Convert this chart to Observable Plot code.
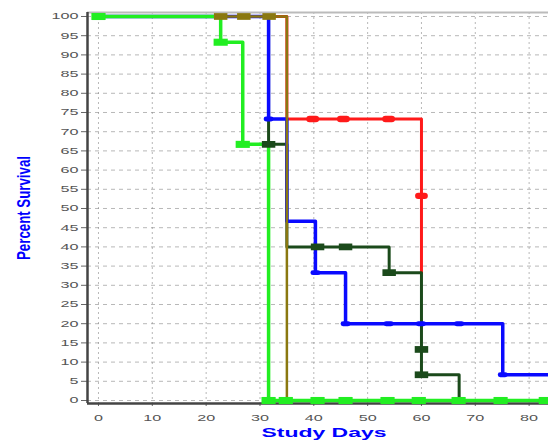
<!DOCTYPE html>
<html><head><meta charset="utf-8">
<script src="https://cdn.jsdelivr.net/npm/d3@7"></script>
<script src="https://cdn.jsdelivr.net/npm/@observablehq/plot@0.6"></script>
<style>body{margin:0;background:#fff;overflow:hidden}</style>
</head><body><div id="chart"></div>
<script>
const xLabel = "Study Days";
const yLabel = "Percent Survival";
const xTicks = [0, 10, 20, 30, 40, 50, 60, 70, 80];
const yTicks = [0,5,10,15,20,25,30,35,40,45,50,55,60,65,70,75,80,85,90,95,100];
const xDomain = [-2.04, 83.6];
const yDomain = [-0.78, 101.04];

// step curves (day, percent survival)
const redDays = [0, 35, 60];
const redSurv = [100, 73.3, 33.3];
const darkDays = [0, 31.6, 35, 54, 60, 67, 84];
const darkSurv = [100, 66.7, 40, 33.3, 6.7, 0, 0];
const blueDays = [0, 31.6, 35, 40.3, 45.9, 75.1, 84];
const blueSurv = [100, 73.3, 46.7, 33.3, 20, 6.7, 6.7];
const greenDays = [0, 22.7, 26.8, 31.6, 84];
const greenSurv = [100, 93.3, 66.7, 0, 0];
const oliveDays = [0, 35, 84];
const oliveSurv = [100, 0, 0];

// markers
const blueMarkDays = [22.7, 31.6, 40.3, 45.9, 53.9, 59.9, 67, 75.1];
const blueMarkSurv = [100, 73.3, 33.3, 20, 20, 20, 20, 6.7];
const redMarkDays = [39.8, 45.5, 53.9, 60];
const redMarkSurv = [73.3, 73.3, 73.3, 53.3];
const darkMarkDays = [31.6, 40.7, 45.9, 54, 60, 60];
const darkMarkSurv = [66.7, 40, 40, 33.3, 13.3, 6.7];
const oliveMarkDays = [22.7, 27, 31.7];
const oliveMarkSurv = [100, 100, 100];
const greenMarkDays = [0, 22.7, 26.8, 31.6, 34.8, 40.7, 45.9, 53.7, 59.5, 66.9, 74.7, 83.1];
const greenMarkSurv = [100, 93.3, 66.7, 0, 0, 0, 0, 0, 0, 0, 0, 0];

const C = {red: "#ff1a1a", dark: "#1b4a1b", blue: "#0a0aff", green: "#22ee22", olive: "#8a7810"};
const pts = (d, s) => d.map((x, i) => ({x, y: s[i]}));

// wide markers (the reference image is horizontally stretched)
const wideRect = {draw(ctx, size) { const h = Math.sqrt(size) / 2; ctx.rect(-2 * h, -h, 4 * h, 2 * h); }};
const capsule = {draw(ctx, size) {
  const h = Math.sqrt(size) / 2, w = 2 * h;
  ctx.moveTo(w - h, -h); ctx.arc(w - h, 0, h, -Math.PI / 2, Math.PI / 2);
  ctx.lineTo(-w + h, h); ctx.arc(-w + h, 0, h, Math.PI / 2, 3 * Math.PI / 2); ctx.closePath();
}};

const lineMark = (d, s, color, w) => Plot.line(pts(d, s), {x: "x", y: "y", curve: "step-after", stroke: color, strokeWidth: w});
const dotMark = (d, s, color, r, sym) => Plot.dot(pts(d, s), {x: "x", y: "y", fill: color, stroke: "none", r, symbol: sym});

const chart = Plot.plot({
  width: 548, height: 440,
  marginLeft: 87, marginRight: 0, marginTop: 12, marginBottom: 37,
  x: {domain: xDomain},
  y: {domain: yDomain},
  style: {fontFamily: "Liberation Sans", background: "#fff", overflow: "visible"},
  marks: [
    Plot.gridY(yTicks, {stroke: "#888", strokeOpacity: 0.6, strokeDasharray: "4,4"}),
    Plot.gridX(xTicks, {stroke: "#888", strokeOpacity: 0.6, strokeDasharray: "2,3"}),
    Plot.axisY(yTicks, {tickSize: 6, tickPadding: 3, fontSize: 9, fill: "#555", stroke: "#666", label: null}),
    Plot.axisX(xTicks, {tickSize: 3, tickPadding: 8, fontSize: 9, fill: "#555", stroke: "#666", label: null}),
    Plot.ruleY([yDomain[1]], {stroke: "#bbb", strokeWidth: 2}),
    Plot.ruleY([yDomain[0]], {stroke: "#444", strokeWidth: 2.5}),
    Plot.ruleX([xDomain[0]], {stroke: "#444", strokeWidth: 2.5}),
    lineMark(redDays, redSurv, C.red, 3),
    lineMark(darkDays, darkSurv, C.dark, 3),
    lineMark(blueDays, blueSurv, C.blue, 3.5),
    lineMark(oliveDays, oliveSurv, C.olive, 2.5),
    lineMark(greenDays, greenSurv, C.green, 3.5),
    dotMark(blueMarkDays, blueMarkSurv, C.blue, 2.8, capsule),
    dotMark(redMarkDays, redMarkSurv, C.red, 3.6, capsule),
    dotMark(darkMarkDays, darkMarkSurv, C.dark, 3.8, wideRect),
    dotMark(oliveMarkDays, oliveMarkSurv, C.olive, 3.8, wideRect),
    dotMark(greenMarkDays, greenMarkSurv, C.green, 4, wideRect),
    Plot.text([yLabel], {frameAnchor: "left", dx: -64, rotate: -90, textAnchor: "middle", fill: "#0000ff", fontWeight: "bold", fontSize: 19, fontFamily: "Liberation Sans"}),
    Plot.text([xLabel], {frameAnchor: "bottom", dy: 33, dx: 6, fill: "#0000ff", fontWeight: "bold", fontSize: 13, fontFamily: "Liberation Sans"})
  ]
});
const svg = d3.select(chart);
svg.selectAll("[aria-label^='y-axis tick label'] text, [aria-label^='x-axis tick label'] text")
  .attr("textLength", function() { return this.textContent.length * 9; })
  .attr("lengthAdjust", "spacingAndGlyphs");
svg.selectAll("text").filter(function() { return this.textContent === yLabel; })
  .attr("textLength", 104).attr("lengthAdjust", "spacingAndGlyphs");
svg.selectAll("text").filter(function() { return this.textContent === xLabel; })
  .attr("textLength", 125).attr("lengthAdjust", "spacingAndGlyphs");
document.getElementById("chart").appendChild(chart);
</script>
</body></html>
